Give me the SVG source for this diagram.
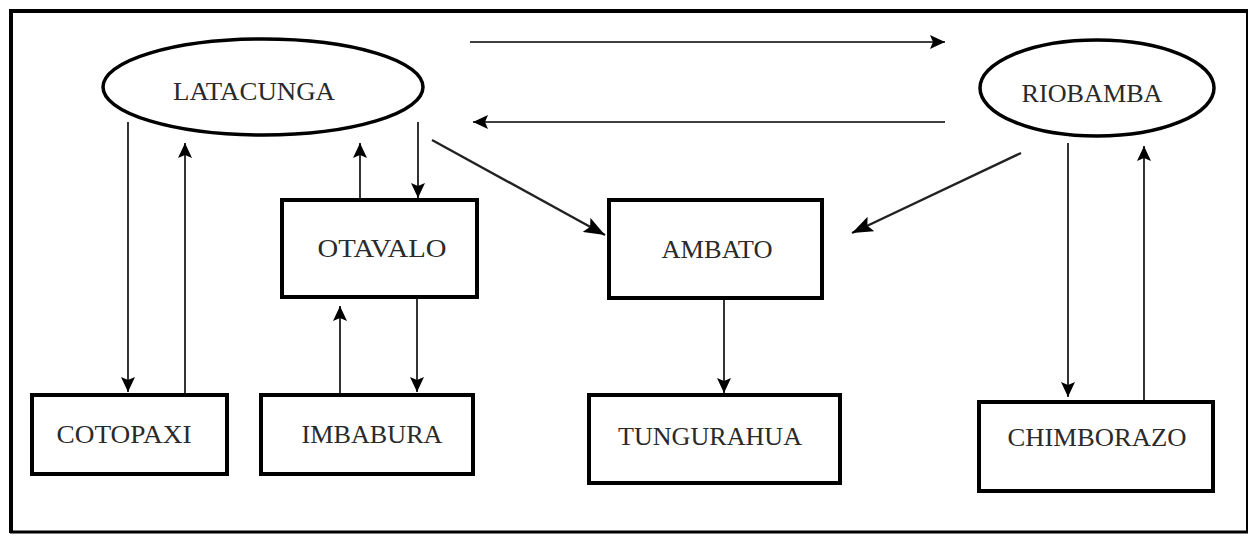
<svg xmlns="http://www.w3.org/2000/svg" width="1252" height="537" viewBox="0 0 1252 537">
<style>
.box{fill:#fff;stroke:#000;stroke-width:4}
.ell{fill:#fff;stroke:#000;stroke-width:3.5}
.lbl{font-family:"Liberation Serif","Times New Roman",serif;font-size:25px;fill:#2a2a2a;text-anchor:middle}
.c{stroke:#000;stroke-width:1.6;fill:none}
.d{stroke:#222;stroke-width:2.4;fill:none}
</style>
<defs>
<marker id="ah" markerUnits="userSpaceOnUse" markerWidth="16" markerHeight="14" refX="15" refY="7" orient="auto">
<path d="M0,0 L15,7 L0,14 L3,7 Z" fill="#000"/>
</marker>
<marker id="ahb" markerUnits="userSpaceOnUse" markerWidth="22" markerHeight="16" refX="21" refY="8" orient="auto">
<path d="M0,0 L21,8 L0,16 L4,8 Z" fill="#000"/>
</marker>
</defs>
<rect width="1252" height="537" fill="#fff"/>
<g id="frame">
<line x1="10" y1="11" x2="1248" y2="11" stroke="#000" stroke-width="4"/>
<line x1="11" y1="9" x2="11" y2="533" stroke="#000" stroke-width="4"/>
<line x1="1247" y1="10" x2="1247" y2="533" stroke="#000" stroke-width="2"/>
<line x1="10" y1="532" x2="1248" y2="532" stroke="#000" stroke-width="3"/>
</g>
<g id="connectors">
<line class="c" x1="470" y1="42" x2="945" y2="42" marker-end="url(#ah)"/>
<line class="c" x1="945" y1="122" x2="473" y2="122" marker-end="url(#ah)"/>
<line class="d" x1="432" y1="140" x2="605" y2="235" marker-end="url(#ahb)"/>
<line class="d" x1="1021" y1="153" x2="852" y2="233" marker-end="url(#ahb)"/>
<line class="c" x1="128" y1="122" x2="128" y2="392" marker-end="url(#ah)"/>
<line class="c" x1="185" y1="395" x2="185" y2="143" marker-end="url(#ah)"/>
<line class="c" x1="360" y1="200" x2="360" y2="143" marker-end="url(#ah)"/>
<line class="c" x1="418" y1="122" x2="418" y2="198" marker-end="url(#ah)"/>
<line class="c" x1="340" y1="395" x2="340" y2="306" marker-end="url(#ah)"/>
<line class="c" x1="417" y1="297" x2="417" y2="392" marker-end="url(#ah)"/>
<line class="c" x1="724" y1="298" x2="724" y2="393" marker-end="url(#ah)"/>
<line class="c" x1="1068" y1="143" x2="1068" y2="397" marker-end="url(#ah)"/>
<line class="c" x1="1144" y1="400" x2="1144" y2="146" marker-end="url(#ah)"/>
</g>
<g id="latacunga">
<ellipse class="ell" cx="263" cy="87" rx="160" ry="48"/>
<text class="lbl" x="254" y="100" textLength="162" lengthAdjust="spacingAndGlyphs">LATACUNGA</text>
</g>
<g id="riobamba">
<ellipse class="ell" cx="1097" cy="88" rx="117" ry="48"/>
<text class="lbl" x="1092" y="102" textLength="141" lengthAdjust="spacingAndGlyphs">RIOBAMBA</text>
</g>
<g id="otavalo">
<rect class="box" x="282" y="200" width="195" height="97"/>
<text class="lbl" x="382" y="257" textLength="129" lengthAdjust="spacingAndGlyphs">OTAVALO</text>
</g>
<g id="ambato">
<rect class="box" x="609" y="200" width="213" height="98"/>
<text class="lbl" x="717" y="258" textLength="111" lengthAdjust="spacingAndGlyphs">AMBATO</text>
</g>
<g id="cotopaxi">
<rect class="box" x="32" y="395" width="195" height="79"/>
<text class="lbl" x="124" y="443" textLength="135" lengthAdjust="spacingAndGlyphs">COTOPAXI</text>
</g>
<g id="imbabura">
<rect class="box" x="261" y="395" width="212" height="79"/>
<text class="lbl" x="372" y="443" textLength="141" lengthAdjust="spacingAndGlyphs">IMBABURA</text>
</g>
<g id="tungurahua">
<rect class="box" x="589" y="395" width="251" height="88"/>
<text class="lbl" x="710" y="445" textLength="184" lengthAdjust="spacingAndGlyphs">TUNGURAHUA</text>
</g>
<g id="chimborazo">
<rect class="box" x="979" y="402" width="234" height="89"/>
<text class="lbl" x="1097" y="446" textLength="179" lengthAdjust="spacingAndGlyphs">CHIMBORAZO</text>
</g>
</svg>
